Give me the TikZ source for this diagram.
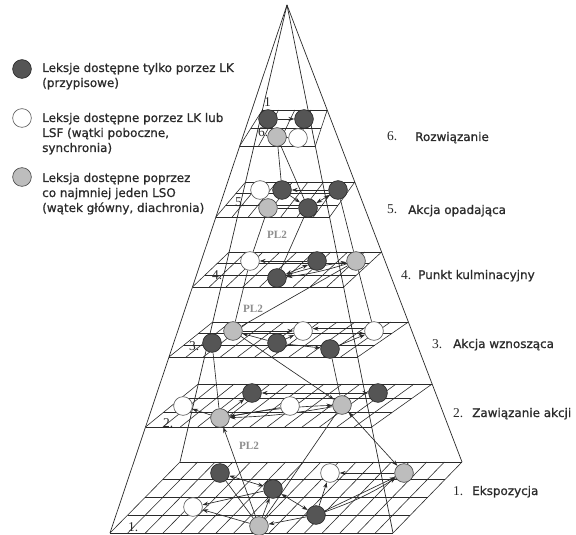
\documentclass[tikz,border=0pt]{standalone}
\usepackage{fontspec}
\setmainfont{Liberation Serif}
\newfontfamily\legendfont[FakeBold=0.7]{DejaVu Sans}
\usetikzlibrary{calc,arrows.meta,backgrounds}

\definecolor{ink}{HTML}{2A2A2A}
\definecolor{dotdark}{HTML}{555555}
\definecolor{dotlight}{HTML}{BDBDBD}
\definecolor{plgray}{HTML}{8E8E8E}

% grid of one level: #1 prefix of the four corner coordinates,
% #2 number of columns, #3 number of rows
\newcommand{\gridplane}[3]{%
  \foreach \i in {0,...,#2}{%
    \pgfmathsetmacro\gfrac{\i/#2}%
    \draw[gridline] ($(#1fl)!\gfrac!(#1fr)$) -- ($(#1bl)!\gfrac!(#1br)$);}%
  \foreach \j in {0,...,#3}{%
    \pgfmathsetmacro\gfrac{\j/#3}%
    \draw[gridline] ($(#1fl)!\gfrac!(#1bl)$) -- ($(#1fr)!\gfrac!(#1br)$);}%
}

\tikzset{
  gridline/.style={draw=ink, line width=0.5pt},
  edgeline/.style={draw=ink, line width=0.6pt},
  dot/.style={circle, draw=ink, line width=0.55pt, minimum size=16pt, inner sep=0pt},
  dotD/.style={dot, fill=dotdark},
  dotW/.style={dot, fill=white, draw=ink!75},
  dotG/.style={dot, fill=dotlight, draw=ink!85},
  arr/.style={draw=ink, line width=0.55pt, -{Stealth[length=5pt,width=3.5pt]}},
  darr/.style={draw=ink, line width=0.55pt, {Stealth[length=5pt,width=3.5pt]}-{Stealth[length=5pt,width=3.5pt]}},
  link/.style={draw=ink, line width=0.55pt},
  lvl/.style={font=\fontsize{11.5}{12}\selectfont, text=ink, inner sep=0pt, anchor=base west},
  pltag/.style={font=\bfseries\fontsize{9.5}{10}\selectfont, text=plgray, inner sep=0pt},
  legtext/.style={font=\legendfont\fontsize{10.2}{12}\selectfont, text=ink, inner sep=0pt, anchor=base west},
}

\begin{document}
\begin{tikzpicture}[x=0.03cm,y=-0.03cm]
\useasboundingbox (0,0) rectangle (576,535);

% pyramid: apex and base corners
\coordinate (A)  at (287,5);
\coordinate (FL) at (110,533);
\coordinate (FR) at (393,533);
\coordinate (BL) at (180,462);
\coordinate (BR) at (462,462);

% corners of the six level planes
\coordinate (p1fl) at (110,533);   \coordinate (p1fr) at (393,533);
\coordinate (p1bl) at (180,462);   \coordinate (p1br) at (462,462);
\coordinate (p2fl) at (145.5,427); \coordinate (p2fr) at (371.7,427);
\coordinate (p2bl) at (198.3,384); \coordinate (p2br) at (432.1,384);
\coordinate (p3fl) at (169,357);   \coordinate (p3fr) at (357.7,357);
\coordinate (p3bl) at (212.8,322); \coordinate (p3br) at (408.4,322);
\coordinate (p4fl) at (192.5,287); \coordinate (p4fr) at (343.6,287);
\coordinate (p4bl) at (229.2,252); \coordinate (p4br) at (381.6,252);
\coordinate (p5fl) at (215.9,217); \coordinate (p5fr) at (329.6,217);
\coordinate (p5bl) at (245.6,182); \coordinate (p5br) at (354.8,182);
\coordinate (p6fl) at (239.7,146); \coordinate (p6fr) at (315.3,146);
\coordinate (p6bl) at (262.4,110); \coordinate (p6br) at (327.2,110);

% ---- lexia nodes ----
% level 6
\node[dotD] (d6a) at (268,119) {};
\node[dotD] (d6b) at (304,119) {};
\node[dotG] (g6)  at (277,137) {};
\node[dotW] (w6)  at (298,138) {};
% level 5
\node[dotW] (w5a) at (260,190) {};
\node[dotD] (d5a) at (282,190) {};
\node[dotD] (d5b) at (338,190) {};
\node[dotG] (g5)  at (268,208) {};
\node[dotD] (d5c) at (308,208) {};
% level 4
\node[dotW] (w4)  at (250,261) {};
\node[dotD] (d4a) at (317,261) {};
\node[dotG] (g4)  at (356,261) {};
\node[dotD] (d4b) at (277,278) {};
% level 3
\node[dotD] (d3a) at (212,343) {};
\node[dotG] (g3)  at (233,331) {};
\node[dotD] (d3b) at (277,343) {};
\node[dotW] (w3a) at (303,331) {};
\node[dotD] (d3c) at (330,349) {};
\node[dotW] (w3b) at (374,331) {};
% level 2
\node[dotW] (w2a) at (183,406) {};
\node[dotD] (d2a) at (252,393) {};
\node[dotG] (g2a) at (220,418) {};
\node[dotW] (w2b) at (290,406) {};
\node[dotG] (g2b) at (342,405) {};
\node[dotD] (d2b) at (378,393) {};
% level 1
\node[dotD] (d1a) at (220,473) {};
\node[dotW] (w1a) at (330,473) {};
\node[dotG] (g1c) at (404,473) {};
\node[dotD] (d1b) at (273,489) {};
\node[dotW] (w1b) at (193,507) {};
\node[dotD] (d1c) at (316,515) {};
\node[dotG] (g1)  at (259,526) {};

% PL2 tags
\node[pltag] (pl54) at (277,235) {PL2};
\node[pltag] (pl43) at (253,309) {PL2};
\node[pltag] (pl21) at (249,446) {PL2};

\begin{pgfonlayer}{background}
  \fill[white] (0,0) rectangle (576,535);
  % level planes
  \gridplane{p1}{16}{4}
  \gridplane{p2}{13}{3}
  \gridplane{p3}{11}{3}
  \gridplane{p4}{9}{3}
  \gridplane{p5}{7}{3}
  \gridplane{p6}{4}{2}
  % pyramid edges
  \draw[edgeline] (A) -- (FL);
  \draw[edgeline] (A) -- (FR);
  \draw[edgeline] (A) -- (BL);
  \draw[edgeline] (A) -- (BR);

  % level numbers on the planes
  \node[lvl] (top1) at (264,107) {1};
  \node[lvl] (n6) at (258,137) {6.};
  \node[lvl] (n5) at (235,207) {5.};
  \node[lvl] (n4) at (212,280) {4.};
  \node[lvl] (n3) at (189,350) {3.};
  \node[lvl] (n2) at (163,427) {2.};
  \node[lvl] (n1) at (128,531) {1.};

  % level 6
  \draw[arr] (d6a) -- (d6b);
  \draw[arr] (d6a) -- (g6);
  \draw[arr] (g6) -- (w6);
  % level 6 to level 5
  \draw[link] (g6) -- (d5a);
  \draw[link] (g6) -- (d5c);
  % level 5
  \draw[arr] (d5b) -- (d5a);
  \draw[darr] (d5c) -- (d5b);
  \draw[arr] (d5a) -- (d5c);
  \draw[link] (g5) -- (d5c);
  % level 5 to level 4
  \draw[link] (g5) -- (w4);
  \draw[link] (d5c) -- (d4b);
  \draw[link] (d5b) -- (g4);
  % level 4
  \draw[arr] (d4a) -- (w4);
  \draw[darr] (d4b) -- (d4a);
  \draw[arr] (d4b) to[bend left=5] (g4);
  \draw[arr] (g4) to[bend left=5] (d4b);
  % level 4 to level 3
  \draw[link] (g4) -- (g3);
  \draw[link] (w4) -- (g3);
  \draw[link] (g4) -- (w3b);
  % level 3
  \draw[arr] (d3b) -- (g3);
  \draw[arr] (g3) -- (w3a);
  \draw[arr] ([yshift=2pt]w3b.west) -- ([yshift=2pt]w3a.east);
  \draw[arr] ([yshift=-2pt]w3a.east) -- ([yshift=-2pt]w3b.west);
  \draw[arr] (d3b) -- (w3a);
  \draw[arr] (d3b) -- (d3c);
  \draw[arr] (d3c) -- (w3b);
  % level 3 to level 2
  \draw[arr] (g3) -- (g2b);
  \draw[link] (d3c) -- (g2b);
  \draw[link] (d3a) -- (g2a);
  % level 2
  \draw[arr] (g2a) -- (w2a);
  \draw[arr] (g2a) -- (d2a);
  \draw[darr] (d2a) -- (d2b);
  \draw[arr] (g2b) to[bend left=4] (g2a);
  \draw[arr] (g2a) to[bend left=4] (g2b);
  \draw[arr] (w2b) -- (g2a);
  % level 2 to level 1
  \draw[arr] (g1) -- (g2a);
  \draw[darr] (g2b) -- (g1c);
  \draw[link] (g1) -- (g2b);
  % level 1
  \draw[darr] (d1a) -- (d1b);
  \draw[darr] (d1b) -- (d1c);
  \draw[arr] (d1b) -- (w1b);
  \draw[arr] (g1) -- (w1b);
  \draw[arr] (g1) -- (d1b);
  \draw[arr] (d1c) -- (g1);
  \draw[arr] (d1c) -- (w1a);
  \draw[arr] (g1c) -- (w1a);
  \draw[arr] (d1c) -- (g1c);
  \draw[arr] (d1c) to[bend right=6] (g1c);
  \draw[link] (d1a) -- (g1);
\end{pgfonlayer}

% ---- legend ----
\node[dotD] (keyD) at (22,69) {};
\node[dotW] (keyW) at (22,118) {};
\node[dotG] (keyG) at (22,177) {};
\node[legtext] (leg1a) at (42,72)  {Leksje dostępne tylko porzez LK};
\node[legtext] (leg1b) at (42,87)  {(przypisowe)};
\node[legtext] (leg2a) at (42,122) {Leksje dostępne porzez LK lub};
\node[legtext] (leg2b) at (42,137) {LSF (wątki poboczne,};
\node[legtext] (leg2c) at (42,152) {synchronia)};
\node[legtext] (leg3a) at (42,182) {Leksja dostępne poprzez};
\node[legtext] (leg3b) at (42,197) {co najmniej jeden LSO};
\node[legtext] (leg3c) at (42,212) {(wątek główny, diachronia)};

% ---- stage names ----
\node[lvl] (s6n) at (387,141) {6.};
\node[legtext] (s6) at (415,141) {Rozwiązanie};
\node[lvl] (s5n) at (387,214) {5.};
\node[legtext] (s5) at (408,214) {Akcja opadająca};
\node[lvl] (s4n) at (401,279) {4.};
\node[legtext] (s4) at (418,279) {Punkt kulminacyjny};
\node[lvl] (s3n) at (432,348) {3.};
\node[legtext] (s3) at (453,348) {Akcja wznosząca};
\node[lvl] (s2n) at (453,417) {2.};
\node[legtext] (s2) at (472,417) {Zawiązanie akcji};
\node[lvl] (s1n) at (453,495) {1.};
\node[legtext] (s1) at (472,495) {Ekspozycja};
\end{tikzpicture}
\end{document}
